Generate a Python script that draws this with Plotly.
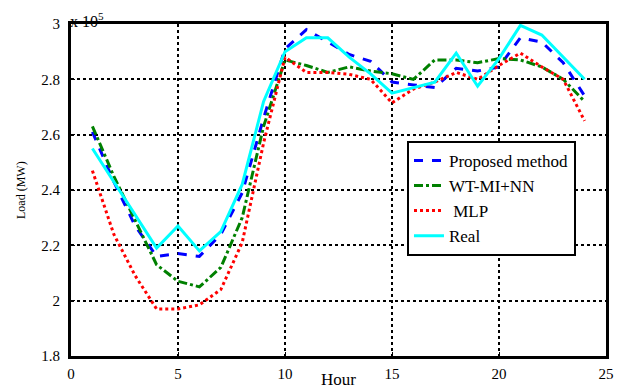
import plotly.graph_objects as go

hours = list(range(1, 25))
# Load values in units of 1e5 MW
real = [2.55, 2.43, 2.31, 2.19, 2.27, 2.18, 2.25, 2.42, 2.72, 2.90, 2.95, 2.95,
        2.88, 2.82, 2.75, 2.77, 2.79, 2.895, 2.775, 2.875, 2.995, 2.96, 2.88, 2.80]
proposed = [2.61, 2.43, 2.27, 2.16, 2.17, 2.16, 2.24, 2.39, 2.66, 2.91, 2.98, 2.935,
            2.89, 2.865, 2.79, 2.78, 2.77, 2.84, 2.83, 2.845, 2.95, 2.935, 2.86, 2.74]
wtmi_nn = [2.63, 2.45, 2.29, 2.13, 2.07, 2.05, 2.12, 2.30, 2.63, 2.87, 2.85, 2.825,
           2.845, 2.83, 2.82, 2.80, 2.87, 2.87, 2.86, 2.875, 2.87, 2.845, 2.80, 2.72]
mlp = [2.47, 2.24, 2.09, 1.97, 1.97, 1.985, 2.04, 2.21, 2.57, 2.88, 2.825, 2.825,
       2.818, 2.80, 2.715, 2.765, 2.79, 2.825, 2.80, 2.85, 2.895, 2.845, 2.80, 2.65]

x_ticks = [0, 5, 10, 15, 20, 25]
y_ticks = [1.8, 2.0, 2.2, 2.4, 2.6, 2.8, 3.0]
y_tick_labels = ["1.8", "2", "2.2", "2.4", "2.6", "2.8", "3"]

FONT = "Liberation Serif"

fig = go.Figure()
fig.add_trace(go.Scatter(x=hours, y=proposed, mode="lines", name="Proposed method",
                         line=dict(color="#0000ff", width=3, dash="dash")))
fig.add_trace(go.Scatter(x=hours, y=wtmi_nn, mode="lines", name="WT-MI+NN",
                         line=dict(color="#008000", width=3, dash="dashdot")))
fig.add_trace(go.Scatter(x=hours, y=mlp, mode="lines", name=" MLP",
                         line=dict(color="#ff0000", width=3, dash="dot")))
fig.add_trace(go.Scatter(x=hours, y=real, mode="lines", name="Real",
                         line=dict(color="#00ffff", width=3)))

axis_common = dict(showline=True, linecolor="black", linewidth=3, mirror=True,
                   showgrid=True, gridcolor="black", gridwidth=2, griddash="dot",
                   zeroline=False, ticks="inside", ticklen=4, tickcolor="black",
                   automargin=False,
                   tickfont=dict(family=FONT, size=15, color="black"))

fig.update_xaxes(range=[0, 25], tickvals=x_ticks, ticklabelstandoff=2, **axis_common)
fig.update_yaxes(range=[1.8, 3.0], tickvals=y_ticks, ticktext=y_tick_labels,
                 ticklabelstandoff=5, **axis_common)

# axis titles and exponent label
fig.add_annotation(text="Load (MW)", xref="paper", yref="paper", x=0.0, y=0.5,
                   xanchor="center", yanchor="middle", textangle=-90, showarrow=False,
                   xshift=-50, font=dict(family=FONT, size=12, color="black"))
fig.add_annotation(text="Hour", xref="paper", yref="paper", x=0.5, y=0.0,
                   xanchor="center", yanchor="middle", showarrow=False,
                   yshift=-23, font=dict(family=FONT, size=17, color="black"))
fig.add_annotation(text="x 10<sup>5</sup>", xref="paper", yref="paper", x=0.0, y=1.0,
                   xanchor="left", yanchor="top", showarrow=False, yshift=16, xshift=-3,
                   font=dict(family=FONT, size=16, color="black"))

fig.update_layout(
    width=616, height=381,
    margin=dict(l=63, r=18, t=16, b=33, autoexpand=False),
    paper_bgcolor="white", plot_bgcolor="white",
    showlegend=True,
    legend=dict(x=0.628, y=0.648, xanchor="left", yanchor="top",
                bgcolor="white", bordercolor="black", borderwidth=2,
                font=dict(family=FONT, size=17, color="black"),
                tracegroupgap=0, itemwidth=30),
)

fig.write_html("out.html")
